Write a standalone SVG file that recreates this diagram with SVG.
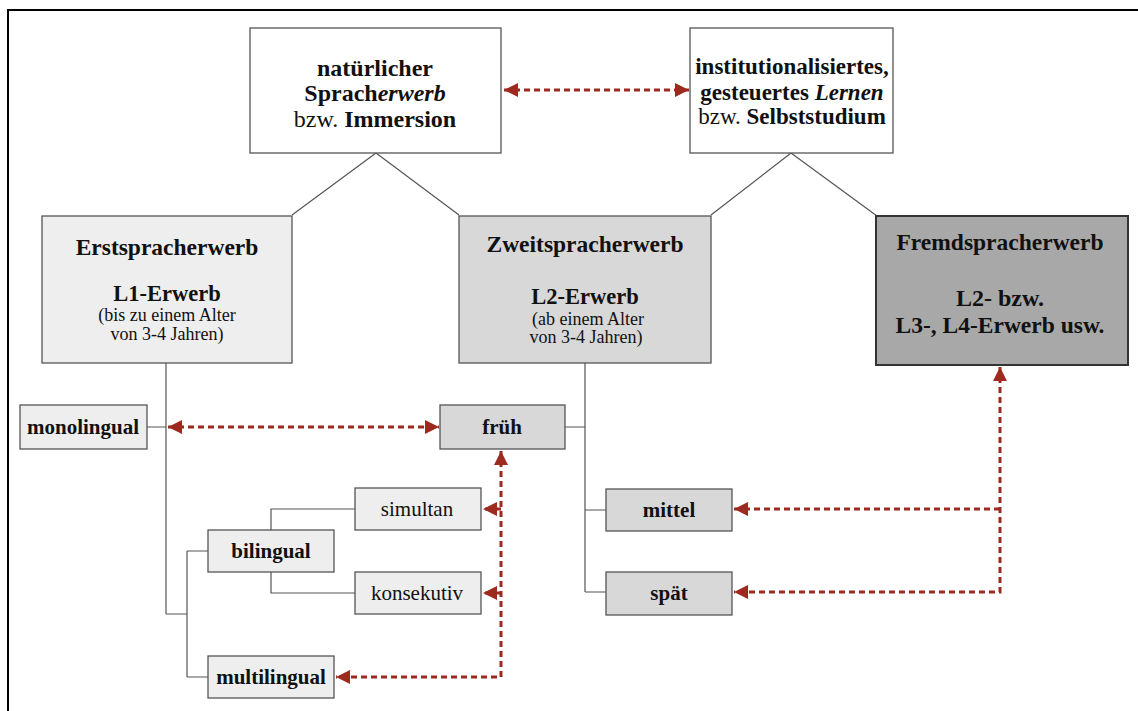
<svg xmlns="http://www.w3.org/2000/svg" width="1138" height="711" viewBox="0 0 1138 711">
<style>
.box{stroke:#555;stroke-width:1.3}
.w{fill:#ffffff}.l{fill:#eeeeee}.m{fill:#d8d8d8}.d{fill:#a8a8a8;stroke:#333;stroke-width:2}
.t{font-family:"Liberation Serif","Times New Roman",serif;fill:#111;text-anchor:middle}
.b{font-weight:bold}
.s{font-size:21px}
.tree{fill:none;stroke:#555;stroke-width:1.2}
.dot{fill:none;stroke:#9c2a1e;stroke-width:3;stroke-dasharray:6 4}
</style>
<defs>
<marker id="ah" viewBox="0 0 10 10" refX="10" refY="5" markerUnits="userSpaceOnUse" markerWidth="17" markerHeight="14" orient="auto-start-reverse">
<path d="M0,0 L10,5 L0,10 z" fill="#9c2a1e"/>
</marker>
</defs>
<rect width="1138" height="711" fill="#ffffff"/>
<path d="M8,711 V10 H1138" fill="none" stroke="#000" stroke-width="2"/>

<g id="connectors">
<path class="tree" d="M376,153 L292,215 M376,153 L459,215 M791,153 L711,215 M791,153 L877,216"/>
<path class="tree" d="M166,363 V614 M147,427 H166 M166,614 H187 M187,551 V677 M187,551 H208 M187,677 H208"/>
<path class="tree" d="M271,530 V509 H355 M271,572 V593 H355"/>
<path class="tree" d="M585,363 V592 M565,427 H585 M585,510 H606 M585,592 H606"/>
<path class="dot" d="M504,90 H689" marker-start="url(#ah)" marker-end="url(#ah)"/>
<path class="dot" d="M168,427 H439" marker-start="url(#ah)" marker-end="url(#ah)"/>
<path class="dot" d="M501,451 V677 H336" marker-start="url(#ah)" marker-end="url(#ah)"/>
<path class="dot" d="M501,509 H483" marker-end="url(#ah)"/>
<path class="dot" d="M501,593 H483" marker-end="url(#ah)"/>
<path class="dot" d="M1000,367 V592 H734" marker-start="url(#ah)" marker-end="url(#ah)"/>
<path class="dot" d="M1000,509 H734" marker-end="url(#ah)"/>
</g>

<g id="natuerlich">
<rect class="box w" x="250" y="28" width="251" height="125"/>
<text class="t b" x="375" y="76" font-size="24">natürlicher</text>
<text class="t b" x="375" y="101" font-size="24">Sprach<tspan font-style="italic">erwerb</tspan></text>
<text class="t" x="375" y="127" font-size="24">bzw. <tspan class="b">Immersion</tspan></text>
</g>

<g id="institutionell">
<rect class="box w" x="690" y="28" width="203" height="125"/>
<text class="t b" x="792" y="74" font-size="23">institutionalisiertes,</text>
<text class="t b" x="792" y="100" font-size="23">gesteuertes <tspan font-style="italic">Lernen</tspan></text>
<text class="t" x="792" y="124" font-size="23">bzw. <tspan class="b">Selbststudium</tspan></text>
</g>

<g id="erst">
<rect class="box l" x="42" y="216" width="250" height="147"/>
<text class="t b" x="167" y="255" font-size="23.5">Erstspracherwerb</text>
<text class="t b" x="167" y="301" font-size="22.5">L1-Erwerb</text>
<text class="t" x="167" y="321" font-size="18">(bis zu einem Alter</text>
<text class="t" x="167" y="340" font-size="18">von 3-4 Jahren)</text>
</g>

<g id="zweit">
<rect class="box m" x="459" y="216" width="252" height="147"/>
<text class="t b" x="585" y="252" font-size="23.5">Zweitspracherwerb</text>
<text class="t b" x="585" y="304" font-size="22.5">L2-Erwerb</text>
<text class="t" x="588" y="325" font-size="18">(ab einem Alter</text>
<text class="t" x="586" y="343" font-size="18">von 3-4 Jahren)</text>
</g>

<g id="fremd">
<rect class="box d" x="876" y="216" width="252" height="149"/>
<text class="t b" x="1000" y="250" font-size="23.5">Fremdspracherwerb</text>
<text class="t b" x="1000" y="306" font-size="24">L2- bzw.</text>
<text class="t b" x="1000" y="333" font-size="23.5">L3-, L4-Erwerb usw.</text>
</g>

<g id="monolingual">
<rect class="box l" x="20" y="405" width="127" height="44"/>
<text class="t b s" x="83" y="434">monolingual</text>
</g>

<g id="frueh">
<rect class="box m" x="440" y="405" width="125" height="44"/>
<text class="t b s" x="502" y="434">früh</text>
</g>

<g id="simultan">
<rect class="box l" x="355" y="488" width="126" height="42"/>
<text class="t s" x="417" y="516">simultan</text>
</g>

<g id="bilingual">
<rect class="box l" x="208" y="530" width="126" height="42"/>
<text class="t b s" x="271" y="558">bilingual</text>
</g>

<g id="konsekutiv">
<rect class="box l" x="355" y="572" width="126" height="42"/>
<text class="t s" x="417" y="600">konsekutiv</text>
</g>

<g id="multilingual">
<rect class="box l" x="208" y="656" width="126" height="42"/>
<text class="t b s" x="271" y="684">multilingual</text>
</g>

<g id="mittel">
<rect class="box m" x="606" y="489" width="126" height="42"/>
<text class="t b s" x="669" y="517">mittel</text>
</g>

<g id="spaet">
<rect class="box m" x="606" y="572" width="126" height="43"/>
<text class="t b s" x="669" y="600">spät</text>
</g>
</svg>
